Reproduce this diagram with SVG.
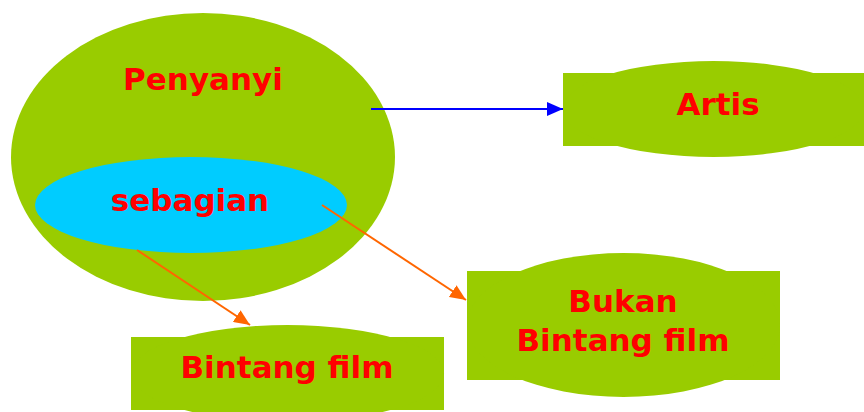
<svg xmlns="http://www.w3.org/2000/svg" width="864" height="412" viewBox="0 0 864 412">
<defs>
<style>
.g{fill:#99CC00}
.c{fill:#00CCFF}
.t{font-family:"DejaVu Sans",Verdana,sans-serif;font-weight:bold;font-size:31px;fill:#FF0000;text-anchor:middle}
.lb{stroke:#0000FF;stroke-width:2;fill:none}
.lo{stroke:#FF6600;stroke-width:2;fill:none}
</style>
<marker id="ab" markerUnits="userSpaceOnUse" markerWidth="16" markerHeight="14" refX="16" refY="7" orient="auto"><path d="M0,0 L16,7 L0,14 Z" fill="#0000FF"/></marker>
<marker id="ao" markerUnits="userSpaceOnUse" markerWidth="16" markerHeight="14" refX="16" refY="7" orient="auto"><path d="M0,0 L16,7 L0,14 Z" fill="#FF6600"/></marker>
</defs>
<g id="penyanyi">
<ellipse class="g" cx="203" cy="157" rx="192" ry="144"/>
<text class="t" x="203" y="90">Penyanyi</text>
</g>
<g id="sebagian">
<ellipse class="c" cx="191" cy="205" rx="156" ry="48"/>
<text class="t" x="190" y="211">sebagian</text>
</g>
<g id="artis">
<rect class="g" x="563" y="73" width="301" height="73"/>
<ellipse class="g" cx="713.5" cy="109" rx="150.5" ry="48"/>
<text class="t" x="718" y="115">Artis</text>
</g>
<g id="bintang">
<rect class="g" x="131" y="337" width="313" height="73"/>
<ellipse class="g" cx="287.5" cy="373.5" rx="156.5" ry="48.5"/>
<text class="t" x="287" y="378">Bintang film</text>
</g>
<g id="bukan">
<rect class="g" x="467" y="271" width="313" height="109"/>
<ellipse class="g" cx="623.5" cy="325" rx="156.5" ry="72"/>
<text class="t" x="623" y="312">Bukan</text>
<text class="t" x="623" y="351">Bintang film</text>
</g>
<g id="connectors">
<line class="lb" x1="371" y1="109" x2="563" y2="109" marker-end="url(#ab)"/>
<line class="lo" x1="137" y1="250" x2="250" y2="325" marker-end="url(#ao)"/>
<line class="lo" x1="322" y1="205" x2="466" y2="300" marker-end="url(#ao)"/>
</g>
</svg>
